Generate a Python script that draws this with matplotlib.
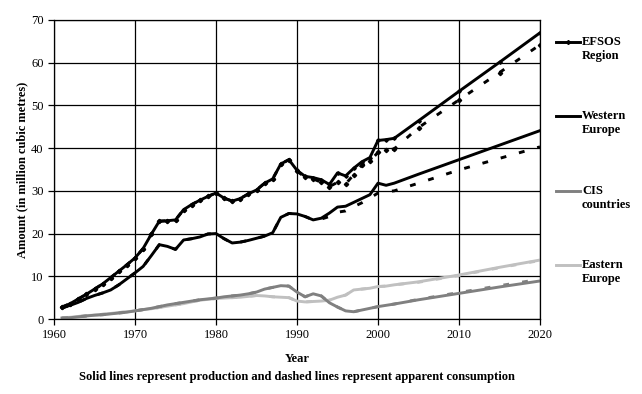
import matplotlib.pyplot as plt
from matplotlib.lines import Line2D

# years: history 1961-2002, then projection points
years = list(range(1961, 2003)) + [2005, 2010, 2015, 2020]

# production (solid lines), million m3
efsos_prod = [2.8, 3.6, 4.7, 5.8, 7.0, 8.2, 9.7, 11.2, 12.7, 14.3,
              16.5, 19.8, 22.9, 23.0, 23.2, 25.6, 26.8, 27.8, 28.7, 29.5,
              28.3, 27.6, 28.2, 29.3, 30.2, 31.8, 32.8, 36.3, 37.3, 34.8,
              33.4, 33.1, 32.6, 31.5, 34.2, 33.5, 35.3, 36.8, 37.8, 41.8,
              42.0, 42.3, 46.4, 53.3, 60.1, 67.0]
west_prod = [2.6, 3.2, 3.9, 4.8, 5.5, 6.1, 6.8, 8.0, 9.4, 10.8,
             12.3, 14.8, 17.4, 17.0, 16.3, 18.5, 18.8, 19.2, 19.9, 20.0,
             18.8, 17.8, 18.0, 18.4, 18.9, 19.4, 20.2, 23.8, 24.7, 24.6,
             24.0, 23.2, 23.6, 24.8, 26.2, 26.4, 27.3, 28.2, 29.1, 31.8,
             31.3, 31.8, 33.9, 37.3, 40.7, 44.1]
cis_prod = [0.2, 0.3, 0.5, 0.7, 0.9, 1.0, 1.2, 1.4, 1.6, 1.9,
            2.2, 2.5, 2.9, 3.3, 3.6, 3.9, 4.2, 4.5, 4.7, 4.9,
            5.2, 5.4, 5.6, 5.9, 6.3, 7.0, 7.4, 7.8, 7.7, 6.3,
            5.2, 5.9, 5.4, 3.8, 2.8, 1.9, 1.7, 2.1, 2.5, 2.9,
            3.2, 3.5, 4.5, 6.0, 7.5, 8.9]
east_prod = [0.3, 0.4, 0.6, 0.8, 0.9, 1.1, 1.3, 1.5, 1.7, 1.9,
             2.2, 2.4, 2.7, 3.0, 3.3, 3.6, 4.0, 4.4, 4.6, 4.8,
             4.9, 5.0, 5.1, 5.3, 5.5, 5.4, 5.2, 5.1, 5.0, 4.2,
             4.0, 4.1, 4.2, 4.4, 5.1, 5.6, 6.8, 7.0, 7.2, 7.6,
             7.7, 8.0, 8.7, 10.3, 12.1, 13.8]

# apparent consumption (dashed lines)
efsos_cons = [2.8, 3.6, 4.7, 5.8, 7.0, 8.2, 9.7, 11.2, 12.7, 14.3,
              16.5, 19.8, 22.9, 23.0, 23.2, 25.6, 26.8, 27.8, 28.7, 29.5,
              28.3, 27.6, 28.2, 29.3, 30.2, 31.8, 32.8, 36.3, 37.3, 34.6,
              33.2, 32.8, 32.0, 31.0, 32.0, 31.6, 33.8, 36.0, 37.0, 39.0,
              39.6, 39.8, 44.8, 51.3, 57.7, 64.2]
west_cons = [2.6, 3.2, 3.9, 4.8, 5.5, 6.1, 6.8, 8.0, 9.4, 10.8,
             12.3, 14.8, 17.4, 17.0, 16.3, 18.5, 18.8, 19.2, 19.9, 20.0,
             18.8, 17.8, 18.0, 18.4, 18.9, 19.4, 20.2, 23.8, 24.7, 24.6,
             24.0, 23.2, 23.4, 24.0, 25.0, 25.3, 26.3, 27.2, 28.3, 29.5,
             29.8, 30.0, 31.8, 34.9, 37.6, 40.3]
cis_cons = [0.2, 0.3, 0.5, 0.7, 0.9, 1.0, 1.2, 1.4, 1.6, 1.9,
            2.2, 2.5, 2.9, 3.3, 3.6, 3.9, 4.2, 4.5, 4.7, 4.9,
            5.2, 5.4, 5.6, 5.9, 6.3, 7.0, 7.4, 7.8, 7.7, 6.3,
            5.2, 5.9, 5.4, 3.8, 2.8, 1.9, 1.7, 2.1, 2.5, 2.9,
            3.2, 3.5, 4.6, 6.2, 7.8, 9.3]
east_cons = [0.3, 0.4, 0.6, 0.8, 0.9, 1.1, 1.3, 1.5, 1.7, 1.9,
             2.2, 2.4, 2.7, 3.0, 3.3, 3.6, 4.0, 4.4, 4.6, 4.8,
             4.9, 5.0, 5.1, 5.3, 5.5, 5.4, 5.2, 5.1, 5.0, 4.2,
             4.0, 4.1, 4.2, 4.4, 5.1, 5.6, 6.8, 7.0, 7.2, 7.6,
             7.7, 8.0, 8.6, 10.2, 12.0, 13.7]

labels = ['EFSOS\nRegion', 'Western\nEurope', 'CIS\ncountries', 'Eastern\nEurope']
colors = ['black', 'black', '#808080', '#c0c0c0']

plt.rcParams['font.family'] = ['Liberation Serif', 'DejaVu Serif']

fig = plt.figure(figsize=(6.42, 3.94), dpi=100)
ax = fig.add_axes([54/642, 1-319/394, 486/642, 299/394])

dash = (0, (2, 4.5))
lw = 2.1
# light series first so dark ones sit on top
ax.plot(years, east_cons, color=colors[3], lw=lw, ls=dash)
ax.plot(years, east_prod, color=colors[3], lw=lw)
ax.plot(years, cis_cons, color=colors[2], lw=lw, ls=dash)
ax.plot(years, cis_prod, color=colors[2], lw=lw)
ax.plot(years, west_cons, color=colors[1], lw=lw, ls=dash)
ax.plot(years, west_prod, color=colors[1], lw=lw)
ax.plot(years, efsos_cons, color=colors[0], lw=lw, ls=dash, marker='D', ms=2.2)
ax.plot(years, efsos_prod, color=colors[0], lw=lw, marker='D', ms=1.8)

ax.set_xlim(1960, 2020)
ax.set_ylim(0, 70)
ax.set_xticks(range(1960, 2021, 10))
ax.set_yticks(range(0, 71, 10))
ax.grid(True, color='black', lw=0.9)
ax.set_axisbelow(True)
for s in ax.spines.values():
    s.set_color('black')
    s.set_linewidth(0.9)
ax.tick_params(direction='out', length=4, width=0.9, labelsize=9, colors='black')

fig.text(22/642, 1-170/394, 'Amount (in million cubic metres)', rotation=90,
         ha='center', va='center', fontsize=9, fontweight='bold')
fig.text(297/642, 1-359/394, 'Year', ha='center', va='center', fontsize=9, fontweight='bold')
fig.text(297/642, 1-377/394,
         'Solid lines represent production and dashed lines represent apparent consumption',
         ha='center', va='center', fontsize=9, fontweight='bold')

# legend drawn by hand to the right of the plot
leg_y = [42, 116, 191, 265]
for i in range(4):
    y = 1 - leg_y[i]/394
    ln = Line2D([556/642, 580/642], [y, y], transform=fig.transFigure,
                color=colors[i], lw=lw)
    fig.add_artist(ln)
    if i == 0:
        fig.add_artist(Line2D([568/642], [y], transform=fig.transFigure,
                              color='black', marker='D', ms=2, lw=0))
    fig.text(582/642, y + 6/394, labels[i], ha='left', va='top', fontsize=9,
             fontweight='bold', linespacing=1.25)

fig.savefig('out.png', dpi=100)
